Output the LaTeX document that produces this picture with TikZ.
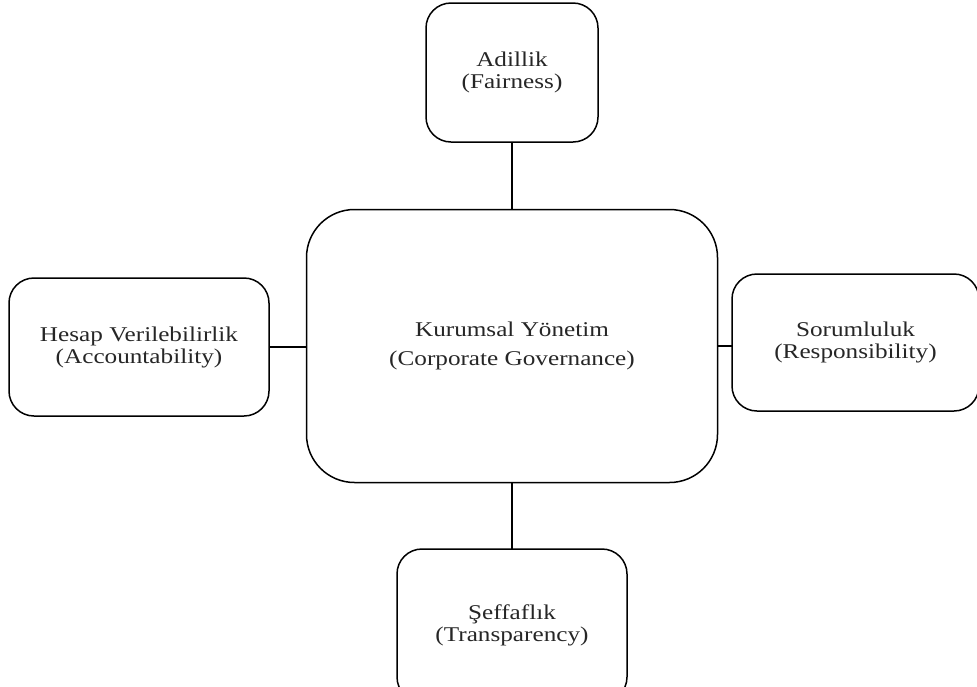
\documentclass[tikz,border=0pt]{standalone}
\usepackage{fontspec}
\setmainfont[FakeStretch=1.2]{Liberation Serif}
\begin{document}
\begin{tikzpicture}[x=1pt,y=-1pt,
  box/.style={draw=black, line width=1.5pt, rounded corners=25pt, inner sep=0pt, outer sep=0pt,
    align=center, font=\fontsize{21}{22}\selectfont, text=black!85},
  bigbox/.style={box, rounded corners=48pt, font=\fontsize{21}{29}\selectfont},
  link/.style={line width=1.5pt, draw=black}]
\useasboundingbox (0,0) rectangle (977,686);
\node[bigbox, minimum width=411pt, minimum height=273pt] (kg) at (512,346)
  {Kurumsal Yönetim\\(Corporate Governance)};
\node[box, minimum width=172pt, minimum height=139pt] (adl) at (512,72.5)
  {Adillik\\(Fairness)};
\node[box, minimum width=260pt, minimum height=138pt] (hes) at (139,347)
  {Hesap Verilebilirlik\\(Accountability)};
\node[box, minimum width=247pt, minimum height=137pt] (sor) at (855.5,342.5)
  {Sorumluluk\\(Responsibility)};
\node[box, minimum width=230pt, minimum height=153pt] (sef) at (512,625.5)
  {Şeffaflık\\(Transparency)};
\draw[link] (adl.south) -- (adl.south |- kg.north);
\draw[link] (hes.east) -- (hes.east -| kg.west);
\draw[link] (kg.east) -- (kg.east -| sor.west);
\draw[link] (kg.south) -- (kg.south |- sef.north);
\end{tikzpicture}
\end{document}
